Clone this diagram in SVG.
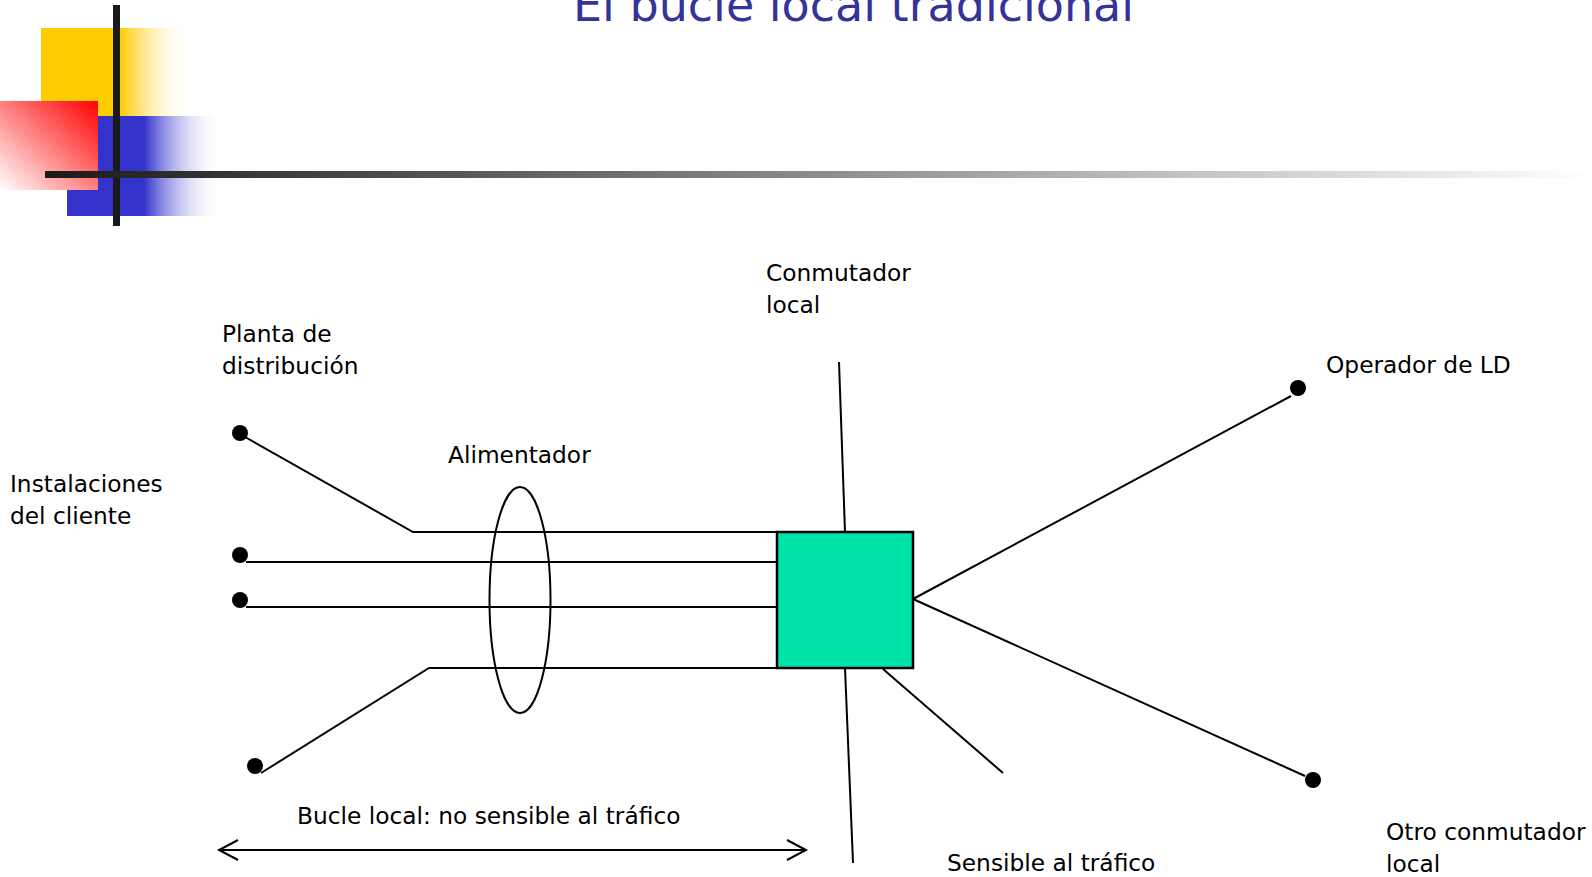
<svg xmlns="http://www.w3.org/2000/svg" width="1592" height="877" viewBox="0 0 1592 877">
  <style>
    .lbl { font-family: "DejaVu Sans", Verdana, sans-serif; font-size: 23.3px; fill: #000; }
    .title { font-family: "DejaVu Sans", Verdana, sans-serif; font-size: 46px; fill: #333399; }
    .wire { fill: none; stroke: #000; stroke-width: 2; }
    .dot { fill: #000; }
  </style>
  <defs>
    <linearGradient id="gY" x1="0" y1="0" x2="1" y2="0">
      <stop offset="0" stop-color="#FFCC00"/>
      <stop offset="0.53" stop-color="#FFCC00"/>
      <stop offset="1" stop-color="#FFFFFF" stop-opacity="0"/>
    </linearGradient>
    <linearGradient id="gB" x1="0" y1="0" x2="1" y2="0">
      <stop offset="0" stop-color="#3333CC"/>
      <stop offset="0.5" stop-color="#3333CC"/>
      <stop offset="1" stop-color="#FFFFFF" stop-opacity="0"/>
    </linearGradient>
    <linearGradient id="gR" x1="1" y1="0" x2="0" y2="1">
      <stop offset="0" stop-color="#FF0000"/>
      <stop offset="1" stop-color="#FFFFFF"/>
    </linearGradient>
    <linearGradient id="gBar" x1="0" y1="0" x2="1" y2="0">
      <stop offset="0" stop-color="#1a1a1a"/>
      <stop offset="1" stop-color="#FFFFFF"/>
    </linearGradient>
    <marker id="chev" markerWidth="24" markerHeight="24" refX="20" refY="12" orient="auto-start-reverse" markerUnits="userSpaceOnUse">
      <path d="M 1 2 L 20 12 L 1 22" fill="none" stroke="#000" stroke-width="2"/>
    </marker>
  </defs>

  <g id="logo">
    <rect x="41" y="28" width="150" height="88" fill="url(#gY)"/>
    <rect x="67" y="116" width="154" height="100" fill="url(#gB)"/>
    <rect x="0" y="101" width="98" height="89" fill="url(#gR)"/>
    <rect x="113" y="5" width="7" height="221" fill="#1a1a1a"/>
    <rect x="45" y="171" width="1547" height="7" fill="url(#gBar)"/>
  </g>

  <text class="title" x="573" y="21">El bucle local tradicional</text>

  <g id="connectors">
    <polyline class="wire" points="245,437 413,532 777,532"/>
    <line class="wire" x1="246" y1="562" x2="777" y2="562"/>
    <line class="wire" x1="246" y1="607" x2="777" y2="607"/>
    <polyline class="wire" points="261,773 429,668 790,668"/>
    <line class="wire" x1="839" y1="362" x2="845" y2="532"/>
    <line class="wire" x1="845" y1="668" x2="853" y2="863"/>
    <line class="wire" x1="883" y1="669" x2="1003" y2="773"/>
    <line class="wire" x1="913" y1="599" x2="1291" y2="396"/>
    <line class="wire" x1="913" y1="599" x2="1305" y2="776"/>
    <line class="wire" x1="219" y1="850" x2="806" y2="850" marker-start="url(#chev)" marker-end="url(#chev)"/>
  </g>

  <g id="feeder">
    <ellipse cx="520" cy="600" rx="30.5" ry="113" fill="none" stroke="#000" stroke-width="2"/>
    <text class="lbl" x="448" y="463">Alimentador</text>
  </g>

  <g id="switch">
    <rect x="777" y="532" width="136" height="136" fill="#00E3A8" stroke="#000" stroke-width="2.5"/>
  </g>

  <g id="customer-dots">
    <circle class="dot" cx="240" cy="433" r="8"/>
    <circle class="dot" cx="240" cy="555" r="8"/>
    <circle class="dot" cx="240" cy="600" r="8"/>
    <circle class="dot" cx="255" cy="766" r="8"/>
  </g>

  <g id="ld-operator">
    <circle class="dot" cx="1298" cy="388" r="8"/>
    <text class="lbl" x="1326" y="373">Operador de LD</text>
  </g>

  <g id="other-switch">
    <circle class="dot" cx="1313" cy="780" r="8"/>
    <text class="lbl" x="1386" y="840">Otro conmutador</text>
    <text class="lbl" x="1386" y="872">local</text>
  </g>

  <g id="labels">
    <text class="lbl" x="766" y="281">Conmutador</text>
    <text class="lbl" x="766" y="313">local</text>
    <text class="lbl" x="222" y="342">Planta de</text>
    <text class="lbl" x="222" y="374">distribución</text>
    <text class="lbl" x="10" y="492">Instalaciones</text>
    <text class="lbl" x="10" y="524">del cliente</text>
    <text class="lbl" x="297" y="824">Bucle local: no sensible al tráfico</text>
    <text class="lbl" x="947" y="871">Sensible al tráfico</text>
  </g>
</svg>
